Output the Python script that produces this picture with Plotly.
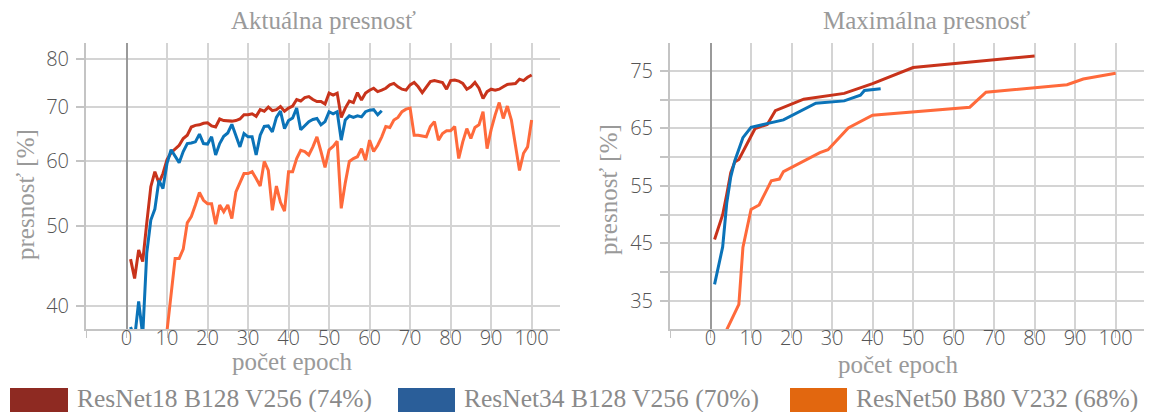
import plotly.graph_objects as go

W, H = 1149, 412

# ---------------- data ----------------
series_names = ["ResNet18 B128 V256 (74%)", "ResNet34 B128 V256 (70%)", "ResNet50 B80 V232 (68%)"]
line_colors = ["#C8331B", "#0B73B8", "#FF6A3B"]
legend_colors = ["#8E2A22", "#2A5E99", "#E2670F"]

# current accuracy (left panel)
epochs_r18 = list(range(1, 101))
acc_r18 = [45.6, 43.2, 46.8, 45.3, 50.5, 55.9, 58.3, 56.5, 58.0, 60.3,
           61.5, 62.2, 62.8, 64.0, 64.6, 66.1, 66.4, 66.5, 66.8, 66.9,
           66.3, 66.1, 67.6, 67.3, 67.2, 67.2, 67.3, 67.6, 68.4, 68.4,
           68.6, 68.1, 69.4, 69.1, 69.9, 69.2, 69.4, 70.0, 69.1, 69.7,
           70.1, 71.4, 71.1, 71.8, 72.0, 71.4, 71.0, 71.0, 70.5, 72.7,
           72.3, 72.7, 67.9, 69.7, 71.1, 70.8, 72.8, 71.3, 72.7, 73.3,
           73.7, 73.0, 73.3, 73.7, 74.4, 74.7, 74.0, 73.5, 73.3, 74.4,
           74.9, 74.0, 72.8, 74.0, 75.1, 75.3, 75.1, 74.9, 73.5, 75.3,
           75.4, 75.2, 74.7, 73.5, 74.0, 74.9, 73.7, 71.6, 73.0, 73.5,
           73.3, 73.5, 74.0, 74.5, 74.6, 74.7, 75.6, 75.3, 76.0, 76.5]

epochs_r34 = list(range(1, 64))
acc_r34 = [37.7, 36.5, 40.5, 36.8, 46.4, 50.9, 52.5, 56.9, 55.6, 59.7,
           62.0, 60.8, 59.8, 61.7, 63.1, 63.2, 63.4, 64.8, 63.1, 63.0,
           64.3, 61.1, 63.1, 64.4, 65.0, 66.6, 64.6, 62.5, 64.9, 64.3,
           64.3, 61.1, 64.6, 66.2, 66.3, 65.2, 67.9, 69.1, 65.8, 67.3,
           67.8, 69.7, 65.6, 66.3, 67.1, 67.5, 67.7, 66.5, 67.1, 69.0,
           68.6, 69.0, 63.7, 67.4, 68.2, 67.9, 68.2, 68.0, 69.0, 69.3,
           69.4, 68.4, 69.2]

epochs_r50 = list(range(10, 101))
acc_r50 = [37.3, 41.4, 45.7, 45.7, 46.9, 50.5, 51.4, 53.1, 55.0, 53.8,
           53.3, 53.3, 50.3, 53.1, 52.1, 53.1, 51.1, 55.1, 56.5, 58.0,
           58.0, 58.3, 57.2, 56.0, 60.0, 58.5, 52.3, 56.0, 53.5, 52.2,
           58.3, 58.3, 60.5, 61.9, 61.7, 61.1, 62.5, 64.3, 61.7, 59.0,
           62.0, 62.6, 63.5, 52.6, 56.5, 60.0, 60.5, 60.8, 62.2, 60.2,
           63.7, 61.7, 62.8, 64.3, 66.2, 66.0, 67.4, 67.9, 69.0, 69.5,
           69.7, 64.6, 64.6, 64.5, 64.3, 66.2, 67.1, 63.7, 64.9, 65.4,
           65.4, 66.2, 60.5, 63.4, 65.8, 64.0, 66.0, 66.5, 69.0, 62.2,
           65.6, 68.4, 70.8, 67.7, 70.1, 67.4, 62.5, 58.5, 61.4, 62.5,
           67.4]

# maximum accuracy (right panel)
max_ep_r18 = [1, 3, 4, 5, 6, 7, 11, 14, 16, 23, 33, 40, 50, 80]
max_r18 = [45.7, 50.0, 53.5, 57.3, 59.2, 59.6, 65.0, 65.7, 68.1, 70.1, 71.1, 72.8, 75.6, 77.6]

max_ep_r34 = [1, 3, 4, 5, 6, 8, 10, 14, 18, 26, 33, 37, 38, 42]
max_r34 = [37.9, 44.4, 52.0, 56.6, 59.4, 63.4, 65.2, 65.8, 66.5, 69.4, 69.8, 70.8, 71.6, 71.9]

max_ep_r50 = [4, 7, 8, 10, 12, 15, 17, 18, 27, 29, 34, 40, 64, 68, 88, 92, 100]
max_r50 = [30.0, 34.4, 44.3, 50.9, 51.7, 55.9, 56.2, 57.5, 60.8, 61.3, 65.1, 67.3, 68.7, 71.3, 72.6, 73.6, 74.6]

panel_titles = ["Aktuálna presnosť", "Maximálna presnosť"]
x_title = "počet epoch"
y_title = "presnosť [%]"
x_tickvals = [-10, 0, 10, 20, 30, 40, 50, 60, 70, 80, 90, 100]
x_ticktext = [""] + [str(v) for v in x_tickvals[1:]]
left_ytickvals = [40, 50, 60, 70, 80]
right_ytickvals = [35, 45, 55, 65, 75]
right_minor_vals = [30, 40, 50, 60, 70, 80]

# ---------------- figure ----------------
fig = go.Figure()

left = [(epochs_r18, acc_r18), (epochs_r34, acc_r34), (epochs_r50, acc_r50)]
right = [(max_ep_r18, max_r18), (max_ep_r34, max_r34), (max_ep_r50, max_r50)]

for i, (x, y) in enumerate(left):
    fig.add_trace(go.Scatter(x=x, y=y, mode="lines", name=series_names[i],
                             line=dict(color=line_colors[i], width=3),
                             xaxis="x", yaxis="y", showlegend=False))
for i, (x, y) in enumerate(right):
    fig.add_trace(go.Scatter(x=x, y=y, mode="lines", name=series_names[i],
                             line=dict(color=line_colors[i], width=3),
                             xaxis="x2", yaxis="y2", showlegend=False))

grid = "#d4d4d4"
tickfont = dict(family="Open Sans", size=20, color="#555555", weight=300)
ydom = [1 - 329 / H, 1 - 42.8 / H]

xcommon = dict(range=[-10, 107], tickmode="array", tickvals=x_tickvals, ticktext=x_ticktext,
               showgrid=True, gridcolor=grid, gridwidth=2,
               zeroline=True, zerolinecolor="#9a9a9a", zerolinewidth=2,
               showline=True, linecolor="#c4c4c4", linewidth=2,
               ticks="outside", ticklen=7, tickcolor="#c4c4c4", tickwidth=1,
               ticklabelstandoff=-17,
               tickfont=tickfont, automargin=False, fixedrange=True)

ycommon = dict(showgrid=True, gridcolor=grid, gridwidth=2, zeroline=False,
               showline=True, linecolor="#c4c4c4", linewidth=2,
               ticks="outside", ticklen=8, tickcolor="#c4c4c4", tickwidth=2,
               ticklabelstandoff=3,
               tickfont=tickfont, automargin=False)

fig.update_layout(
    width=W, height=H,
    margin=dict(l=0, r=0, t=0, b=0),
    paper_bgcolor="white", plot_bgcolor="white",
    xaxis=dict(domain=[86 / W, 560 / W], anchor="y", **xcommon),
    xaxis2=dict(domain=[670 / W, 1144 / W], anchor="y2", **xcommon),
    yaxis=dict(domain=ydom, anchor="x", type="log", range=[1.5738, 1.9229],
               tickmode="array", tickvals=left_ytickvals, **ycommon),
    yaxis2=dict(domain=ydom, anchor="x2", range=[30.13, 79.9],
                tickmode="array", tickvals=right_ytickvals,
                minor=dict(tickvals=right_minor_vals, showgrid=True,
                           gridcolor=grid, gridwidth=2, ticks="outside", ticklen=8,
                           tickcolor="#c4c4c4", tickwidth=2),
                **ycommon),
)

serif_gray = dict(family="Liberation Serif", size=25, color="#9a9a9a")

def ann(text, x_px, y_px, angle=0, font=serif_gray, xanchor="center"):
    fig.add_annotation(text=text, x=x_px / W, y=1 - y_px / H, xref="paper", yref="paper",
                       showarrow=False, textangle=angle, font=font,
                       xanchor=xanchor, yanchor="middle")

ann(panel_titles[0], 323, 21)
ann(panel_titles[1], 926, 21)
ann(x_title, 292, 361)
ann(x_title, 898, 364)
ann(y_title, 25, 195, angle=-90)
ann(y_title, 608, 190, angle=-90)

# manual legend with wide colour boxes
leg_boxes = [(10, 68), (398, 455), (790, 847)]
leg_font = dict(family="Liberation Serif", size=25.5, color="#8a8a8a")
for i, (x0, x1) in enumerate(leg_boxes):
    fig.add_shape(type="rect", xref="paper", yref="paper",
                  x0=x0 / W, x1=x1 / W, y0=1 - 412 / H, y1=1 - 388 / H,
                  fillcolor=legend_colors[i], line=dict(width=0))
    ann(series_names[i], x1 + 7, 398, font=leg_font, xanchor="left")

fig.write_html("out.html")
